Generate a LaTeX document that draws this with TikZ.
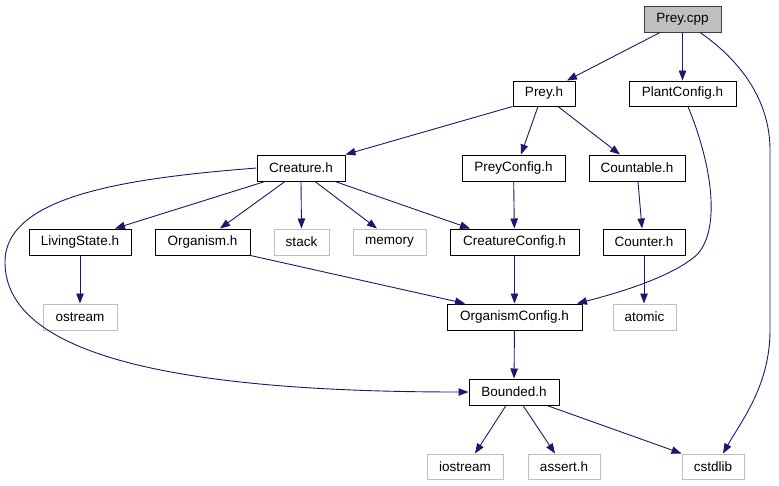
\documentclass[tikz,border=0pt]{standalone}
\usepackage{fontspec}
\setmainfont{Liberation Sans}
\usetikzlibrary{arrows.meta}
\definecolor{edgeblue}{HTML}{191970}
\definecolor{sysgray}{HTML}{BFBFBF}
\begin{document}
\begin{tikzpicture}[x=1pt,y=-1pt,
  hdr/.style={draw=black, line width=1pt, fill=white, inner sep=0pt, font=\fontsize{13.5}{16}\selectfont},
  sys/.style={hdr, draw=sysgray},
  root/.style={hdr, fill=sysgray, draw=black!75},
  dep/.style={draw=edgeblue, line width=0.9pt, -{Triangle[length=10pt,width=7.5pt]}, fill=none},
  dep/.append code={\tikzset{arrows={-{Triangle[length=10pt,width=7.5pt,fill=edgeblue]}}}}
]
\useasboundingbox (0,0) rectangle (779,485);
\fill[white] (0,0) rectangle (779,485);

\node[root, minimum width=77pt, minimum height=26pt] (preycpp) at (682.5,19) {Prey.cpp};
\node[hdr, minimum width=62pt, minimum height=25pt] (preyh) at (544,93.5) {Prey.h};
\node[hdr, minimum width=107pt, minimum height=25pt] (plantcfg) at (682.5,93.5) {PlantConfig.h};
\node[hdr, minimum width=88pt, minimum height=26pt] (creature) at (301,168) {Creature.h};
\node[hdr, minimum width=103pt, minimum height=26pt] (preycfg) at (513.5,168) {PreyConfig.h};
\node[hdr, minimum width=96pt, minimum height=26pt] (countable) at (637,168) {Countable.h};
\node[hdr, minimum width=102pt, minimum height=26pt] (living) at (80,242) {LivingState.h};
\node[hdr, minimum width=95pt, minimum height=26pt] (organism) at (202.5,242) {Organism.h};
\node[sys, minimum width=55pt, minimum height=26pt] (stack) at (301.5,242) {stack};
\node[sys, minimum width=73pt, minimum height=26pt] (memory) at (389.5,242) {memory};
\node[hdr, minimum width=129pt, minimum height=26pt] (creaturecfg) at (514.5,242) {CreatureConfig.h};
\node[hdr, minimum width=82pt, minimum height=26pt] (counter) at (644,242) {Counter.h};
\node[sys, minimum width=74pt, minimum height=26pt] (ostream) at (80,317) {ostream};
\node[hdr, minimum width=135pt, minimum height=26pt] (orgcfg) at (514.5,317) {OrganismConfig.h};
\node[sys, minimum width=63pt, minimum height=26pt] (atomic) at (644.5,317) {atomic};
\node[hdr, minimum width=90pt, minimum height=26pt] (bounded) at (514,392) {Bounded.h};
\node[sys, minimum width=76pt, minimum height=25pt] (iostream) at (465,466.5) {iostream};
\node[sys, minimum width=72pt, minimum height=25pt] (assert) at (564,466.5) {assert.h};
\node[sys, minimum width=62pt, minimum height=25pt] (cstdlib) at (713,466.5) {cstdlib};

% Prey.cpp
\draw[dep] (preycpp.south -| 660,0) -- (preyh.north -| 567,0);
\draw[dep] (preycpp.south) -- (plantcfg.north);
\draw[dep] (preycpp.south -| 700,0) .. controls (740,60) and (770,100) .. (770,150) -- (770,330) .. controls (770,385) and (742,420) .. (cstdlib.north -| 723,0);
% Prey.h
\draw[dep] (preyh.south west) -- (creature.north east);
\draw[dep] (preyh.south -| 538,0) -- (preycfg.north -| 521,0);
\draw[dep] (preyh.south -| 558,0) -- (countable.north -| 620,0);
% PlantConfig
\draw[dep] (plantcfg.south -| 688,0) .. controls (718,180) and (718,240) .. (693,258) .. controls (665,280) and (610,295) .. (orgcfg.north -| 577,0);
% Creature.h
\draw[dep] (creature.south -| 265,0) -- (living.north -| 115,0);
\draw[dep] (creature.south -| 285,0) -- (organism.north -| 220,0);
\draw[dep] (creature.south) -- (stack.north);
\draw[dep] (creature.south -| 315,0) -- (memory.north -| 377,0);
\draw[dep] (creature.south -| 335,0) -- (creaturecfg.north -| 470,0);
\draw[dep] (creature.west) .. controls (130,178) and (5,195) .. (5,262) .. controls (5,345) and (140,392) .. (bounded.west);
% others
\draw[dep] (preycfg) -- (creaturecfg);
\draw[dep] (countable.south -| 638,0) -- (counter.north -| 642,0);
\draw[dep] (counter.south) -- (atomic.north -| 644,0);
\draw[dep] (living) -- (ostream);
\draw[dep] (organism.south east) -- (orgcfg.north -| 465,0);
\draw[dep] (creaturecfg) -- (orgcfg);
\draw[dep] (orgcfg) -- (bounded);
\draw[dep] (bounded.south -| 506,0) -- (iostream.north -| 475,0);
\draw[dep] (bounded.south -| 523,0) -- (assert.north -| 555,0);
\draw[dep] (bounded.south -| 547,0) -- (cstdlib.north west);
\end{tikzpicture}
\end{document}
